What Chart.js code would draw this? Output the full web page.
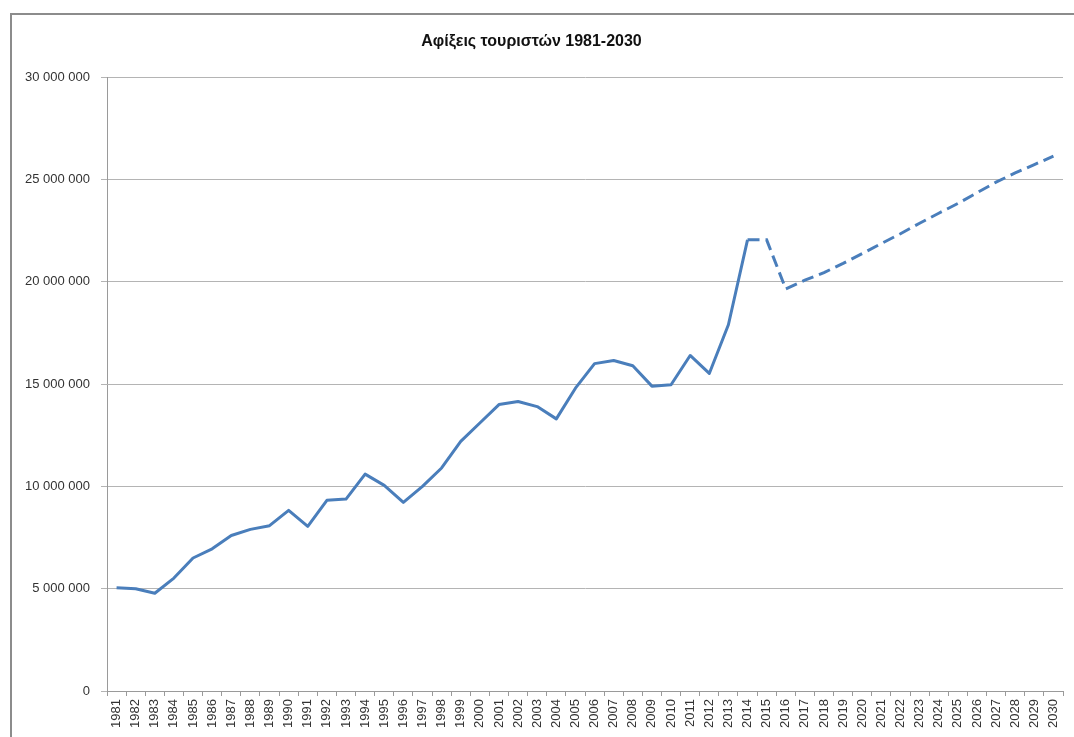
<!DOCTYPE html>
<html>
<head>
<meta charset="utf-8">
<script src="https://cdn.jsdelivr.net/npm/chart.js@4"></script>
<style>
  html, body { margin: 0; padding: 0; background: #fff; overflow: hidden; }
  #frame { position: absolute; left: 10px; top: 13px; width: 1100px; height: 760px;
           border-left: 2px solid #8c8c8c; border-top: 2px solid #8c8c8c; }
  #wrap { position: absolute; left: 0; top: 0; width: 1074px; height: 737px; }
</style>
</head>
<body>
<div id="frame"></div>
<div id="wrap"><canvas id="arrivalsChart"></canvas></div>
<script>
const years = [];
for (let y = 1981; y <= 2030; y++) years.push(String(y));

// arrivals 1981-2014 (solid)
const actual = [5050000, 5000000, 4780000, 5520000, 6500000, 6950000, 7600000, 7900000, 8080000, 8830000,
                8050000, 9320000, 9380000, 10600000, 10050000, 9220000, 10000000, 10900000, 12200000, 13100000,
                14000000, 14150000, 13900000, 13300000, 14800000, 16000000, 16150000, 15900000, 14900000, 14970000,
                16400000, 15520000, 17900000, 22050000];

// estimates 2015-2030 (dashed)
const projected = [22050000, 19650000, 20080000, 20450000, 20900000, 21380000, 21870000, 22350000,
                   22860000, 23350000, 23830000, 24350000, 24870000, 25320000, 25730000, 26140000];

const yTicks = [0, 5000000, 10000000, 15000000, 20000000, 25000000, 30000000];

const solidData = actual.concat(projected.map(() => null));
const dashedData = actual.map((v, i) => i === actual.length - 1 ? v : null).concat(projected);

const lineColor = '#4a7ebb';

const ctx = document.getElementById('arrivalsChart').getContext('2d');
const arrivalsChart = new Chart(ctx, {
    type: 'line',
    data: {
        labels: years,
        datasets: [{
            label: 'Αφίξεις',
            data: solidData,
            borderColor: lineColor,
            borderWidth: 3,
            pointRadius: 0,
            borderJoinStyle: 'round',
            fill: false,
        }, {
            label: 'Εκτίμηση',
            data: dashedData,
            borderColor: lineColor,
            borderWidth: 3,
            borderDash: [12, 6],
            pointRadius: 0,
            fill: false,
        }]
    },
    options: {
        responsive: true,
        maintainAspectRatio: false,
        animation: false,
        layout: { padding: { left: 0, right: 11, top: 0, bottom: 0 } },
        plugins: {
            legend: { display: false },
            tooltip: { enabled: false },
            title: {
                display: true,
                text: 'Αφίξεις τουριστών 1981-2030',
                color: '#111',
                font: { family: 'Liberation Sans', size: 16, weight: 'bold' },
                padding: { top: 32, bottom: 26 }
            }
        },
        scales: {
            x: {
                offset: true,
                afterFit: s => { s.height = 46; },
                grid: { offset: true, drawOnChartArea: false, drawTicks: true, tickLength: 5, color: '#9a9a9a' },
                border: { display: true, color: '#9a9a9a', width: 1 },
                ticks: {
                    autoSkip: false,
                    maxRotation: 90,
                    minRotation: 90,
                    padding: 3,
                    color: '#333',
                    font: { family: 'Liberation Sans', size: 13 }
                }
            },
            y: {
                min: 0,
                max: 30000000,
                afterFit: s => { s.width = 107; },
                afterBuildTicks: s => { s.ticks = yTicks.map(v => ({ value: v })); },
                grid: { color: '#b4b4b4', tickLength: 6, lineWidth: 1 },
                border: { display: true, color: '#9a9a9a' },
                ticks: {
                    padding: 11,
                    color: '#333',
                    font: { family: 'Liberation Sans', size: 13 },
                    callback: v => String(v).replace(/\B(?=(\d{3})+(?!\d))/g, ' ')
                }
            }
        }
    }
});
</script>
</body>
</html>
